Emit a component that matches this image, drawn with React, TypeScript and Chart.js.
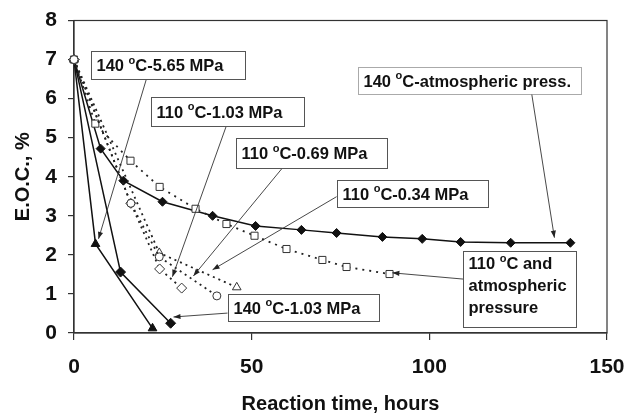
import React, { useEffect, useRef } from "react";
import { Chart, registerables } from "chart.js";

Chart.register(...registerables);

// Reaction time (hours) and E.O.C. (%) for each run
const hoursAtm140 = [0, 7.5, 13.9, 24.9, 39, 51.1, 64, 73.9, 86.8, 98, 108.8, 122.9, 139.7];
const eocAtm140 = [7.0, 4.72, 3.9, 3.36, 3.0, 2.74, 2.64, 2.56, 2.46, 2.41, 2.33, 2.31, 2.31];

const hoursAtm110 = [0, 6.0, 15.9, 24.1, 34.2, 42.9, 50.8, 59.8, 69.9, 76.7, 88.8];
const eocAtm110 = [7.0, 5.36, 4.41, 3.74, 3.18, 2.79, 2.49, 2.15, 1.87, 1.69, 1.51];

const hours140at565 = [0, 6.05, 22.1];
const eoc140at565 = [7.0, 2.28, 0.12];

const hours140at103 = [0, 13.1, 27.2];
const eoc140at103 = [7.0, 1.56, 0.25];

const hours110at103 = [0, 16, 24.1, 30.3];
const eoc110at103 = [7.0, 3.32, 1.64, 1.15];

const hours110at069 = [0, 16, 24, 40.2];
const eoc110at069 = [7.0, 3.32, 1.95, 0.95];

const hours110at034 = [0, 24, 45.8];
const eoc110at034 = [7.0, 2.05, 1.17];

const xTickValues = [0, 50, 100, 150];
const yTickValues = [0, 1, 2, 3, 4, 5, 6, 7, 8];

const xTitle = "Reaction time, hours";
const yTitle = "E.O.C., %";

type Part = { text: string; sup?: boolean };
const degLabel = (temp: string, rest: string): Part[] => [
  { text: temp + " " },
  { text: "o", sup: true },
  { text: "C" + rest },
];

// Callout boxes with leader arrows, positioned in axis units
type Callout = {
  lines: Part[][];
  box: [number, number, number, number]; // x0, yTop, x1, yBottom
  from: [number, number];
  to: [number, number];
  dotted?: boolean;
};

const callouts: Callout[] = [
  { lines: [degLabel("140", "-5.65 MPa")], box: [4.9, 7.23, 48.0, 6.51], from: [20.4, 6.51], to: [6.9, 2.41] },
  { lines: [degLabel("110", "-1.03 MPa")], box: [21.8, 6.05, 64.6, 5.31], from: [42.9, 5.31], to: [27.7, 1.44] },
  { lines: [degLabel("110", "-0.69 MPa")], box: [45.5, 5.0, 88.2, 4.23], from: [58.7, 4.23], to: [33.6, 1.46] },
  { lines: [degLabel("110", "-0.34 MPa")], box: [73.9, 3.92, 116.4, 3.23], from: [73.9, 3.49], to: [39.0, 1.62] },
  { lines: [degLabel("140", "-atmospheric press.")], box: [80.0, 6.82, 142.8, 6.13], from: [128.8, 6.13], to: [135.2, 2.44], dotted: true },
  {
    lines: [degLabel("110", " and"), [{ text: "atmospheric" }], [{ text: "pressure" }]],
    box: [109.6, 2.1, 141.4, 0.15],
    from: [109.6, 1.38],
    to: [89.6, 1.54],
  },
  { lines: [degLabel("140", "-1.03 MPa")], box: [43.2, 1.0, 85.7, 0.31], from: [43.2, 0.51], to: [28.0, 0.41] },
];

const FONT_FAMILY = '"Liberation Sans", Arial, Helvetica, sans-serif';
const INK = "#111";
const FRAME = "#333";

const toPoints = (xs: number[], ys: number[]) => xs.map((x, i) => ({ x, y: ys[i] }));

const framePlugin = {
  id: "plotFrame",
  beforeDatasetsDraw(chart: any) {
    const { ctx, chartArea } = chart;
    ctx.save();
    ctx.strokeStyle = FRAME;
    ctx.lineWidth = 1.2;
    ctx.strokeRect(chartArea.left, chartArea.top, chartArea.right - chartArea.left, chartArea.bottom - chartArea.top);
    ctx.restore();
  },
};

const calloutPlugin = {
  id: "callouts",
  afterDatasetsDraw(chart: any) {
    const { ctx } = chart;
    const xs = chart.scales.x;
    const ys = chart.scales.y;
    const px = (v: number) => xs.getPixelForValue(v);
    const py = (v: number) => ys.getPixelForValue(v);
    ctx.save();
    for (const c of callouts) {
      // leader line and arrow head
      const sx = px(c.from[0]);
      const sy = py(c.from[1]);
      const ex = px(c.to[0]);
      const ey = py(c.to[1]);
      ctx.strokeStyle = "#333";
      ctx.fillStyle = "#222";
      ctx.lineWidth = 0.9;
      ctx.setLineDash([]);
      ctx.beginPath();
      ctx.moveTo(sx, sy);
      ctx.lineTo(ex, ey);
      ctx.stroke();
      const ang = Math.atan2(ey - sy, ex - sx);
      const len = 7;
      const half = 2.6;
      ctx.beginPath();
      ctx.moveTo(ex, ey);
      ctx.lineTo(ex - len * Math.cos(ang) + half * Math.sin(ang), ey - len * Math.sin(ang) - half * Math.cos(ang));
      ctx.lineTo(ex - len * Math.cos(ang) - half * Math.sin(ang), ey - len * Math.sin(ang) + half * Math.cos(ang));
      ctx.closePath();
      ctx.fill();

      // box
      const l = Math.round(px(c.box[0])) + 0.5;
      const r = Math.round(px(c.box[2])) + 0.5;
      const t = Math.round(py(c.box[1])) + 0.5;
      const b = Math.round(py(c.box[3])) + 0.5;
      ctx.fillStyle = "#fff";
      ctx.fillRect(l, t, r - l, b - t);
      ctx.strokeStyle = "#555";
      ctx.lineWidth = 1;
      if (c.dotted) ctx.setLineDash([1, 1]);
      ctx.strokeRect(l, t, r - l, b - t);
      ctx.setLineDash([]);

      // text
      const lineGap = 22;
      const n = c.lines.length;
      const midY = (t + b) / 2;
      ctx.fillStyle = INK;
      ctx.textBaseline = "middle";
      ctx.textAlign = "left";
      c.lines.forEach((parts, i) => {
        let cx = l + 5;
        const cy = midY + (i - (n - 1) / 2) * lineGap + (n > 1 ? -3 : 1);
        for (const p of parts) {
          if (p.sup) {
            ctx.font = `bold 11px ${FONT_FAMILY}`;
            ctx.fillText(p.text, cx, cy - 6);
          } else {
            ctx.font = `bold 16.5px ${FONT_FAMILY}`;
            ctx.fillText(p.text, cx, cy);
          }
          cx += ctx.measureText(p.text).width;
        }
      });
    }
    ctx.restore();
  },
};

const solid = (label: string, xs: number[], ys: number[], style: string, radius: number) => ({
  label,
  data: toPoints(xs, ys),
  borderColor: "#111",
  borderWidth: 1.5,
  pointStyle: style,
  pointRadius: radius,
  pointBackgroundColor: "#111",
  pointBorderColor: "#111",
  pointBorderWidth: 1,
  tension: 0,
});

const dotted = (label: string, xs: number[], ys: number[], style: string, radius: number, dash: number[]) => ({
  label,
  data: toPoints(xs, ys),
  borderColor: "#222",
  borderWidth: 1.8,
  borderDash: dash,
  pointStyle: style,
  pointRadius: radius,
  pointBackgroundColor: "#fff",
  pointBorderColor: "#333",
  pointBorderWidth: 1,
  tension: 0,
});

export default function App() {
  const canvasRef = useRef<HTMLCanvasElement | null>(null);

  useEffect(() => {
    document.body.style.margin = "0";
    const canvas = canvasRef.current;
    if (!canvas) return;

    const chart = new Chart(canvas, {
      type: "line",
      data: {
        // the first dataset is painted last, on top
        datasets: [
          dotted("110 °C-0.69 MPa", hours110at069, eoc110at069, "circle", 4, [2, 4]),
          dotted("110 °C-1.03 MPa", hours110at103, eoc110at103, "rectRot", 5, [2, 4]),
          dotted("110 °C-0.34 MPa", hours110at034, eoc110at034, "triangle", 5, [2, 4]),
          dotted("110 °C and atmospheric pressure", hoursAtm110, eocAtm110, "rect", 5, [2, 5]),
          solid("140 °C-5.65 MPa", hours140at565, eoc140at565, "triangle", 5),
          solid("140 °C-1.03 MPa", hours140at103, eoc140at103, "rectRot", 5),
          solid("140 °C-atmospheric press.", hoursAtm140, eocAtm140, "rectRot", 4.5),
        ] as any,
      },
      options: {
        animation: false,
        responsive: false,
        clip: false as any,
        layout: { padding: { top: 20.5, right: 18, left: 0, bottom: 0 } },
        plugins: {
          legend: { display: false },
          tooltip: { enabled: false },
        },
        scales: {
          x: {
            type: "linear",
            min: 0,
            max: 150,
            afterBuildTicks: (scale: any) => {
              scale.ticks = xTickValues.map((v) => ({ value: v }));
            },
            afterFit: (scale: any) => {
              scale.height = 85;
              scale.paddingLeft = 0;
              scale.paddingRight = 0;
            },
            grid: { display: true, drawOnChartArea: false, drawTicks: true, tickLength: 7, color: FRAME, lineWidth: 1.2 },
            border: { display: true, color: FRAME, width: 1.2 },
            ticks: {
              color: INK,
              padding: 15,
              maxRotation: 0,
              font: { family: FONT_FAMILY, size: 21, weight: "bold" },
            },
            title: {
              display: true,
              text: xTitle,
              color: INK,
              padding: { top: 0, bottom: 2 },
              font: { family: FONT_FAMILY, size: 20, weight: "bold" },
            },
          },
          y: {
            type: "linear",
            min: 0,
            max: 8,
            afterBuildTicks: (scale: any) => {
              scale.ticks = yTickValues.map((v) => ({ value: v }));
            },
            afterFit: (scale: any) => {
              scale.width = 74;
              scale.paddingTop = 0;
              scale.paddingBottom = 0;
            },
            grid: { display: true, drawOnChartArea: false, drawTicks: true, tickLength: 6, color: FRAME, lineWidth: 1.2 },
            border: { display: true, color: FRAME, width: 1.2 },
            ticks: {
              color: INK,
              padding: 11,
              font: { family: FONT_FAMILY, size: 21, weight: "bold" },
            },
            title: {
              display: true,
              text: yTitle,
              color: INK,
              padding: { top: 11, bottom: 0 },
              font: { family: FONT_FAMILY, size: 20, weight: "bold" },
            },
          },
        },
      } as any,
      plugins: [framePlugin, calloutPlugin],
    });

    return () => chart.destroy();
  }, []);

  return (
    <div style={{ width: 625, height: 418, background: "#fff" }}>
      <canvas ref={canvasRef} width={625} height={418} style={{ display: "block" }} />
    </div>
  );
}
